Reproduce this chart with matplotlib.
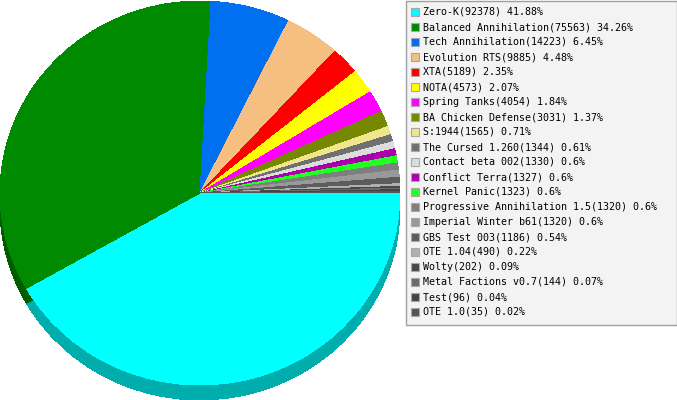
import matplotlib
matplotlib.use("Agg")
import matplotlib.pyplot as plt
from matplotlib.patches import Rectangle

names = ["Zero-K", "Balanced Annihilation", "Tech Annihilation", "Evolution RTS", "XTA", "NOTA",
         "Spring Tanks", "BA Chicken Defense", "S:1944", "The Cursed 1.260", "Contact beta 002",
         "Conflict Terra", "Kernel Panic", "Progressive Annihilation 1.5", "Imperial Winter b61",
         "GBS Test 003", "OTE 1.04", "Wolty", "Metal Factions v0.7", "Test", "OTE 1.0"]
values = [92378, 75563, 14223, 9885, 5189, 4573, 4054, 3031, 1565, 1344, 1330,
          1327, 1323, 1320, 1320, 1186, 490, 202, 144, 96, 35]
percents = ["41.88", "34.26", "6.45", "4.48", "2.35", "2.07", "1.84", "1.37", "0.71", "0.61", "0.6",
            "0.6", "0.6", "0.6", "0.6", "0.54", "0.22", "0.09", "0.07", "0.04", "0.02"]
colors = ["#00ffff", "#008a00", "#0070f0", "#f4bf80", "#ff0000", "#ffff00", "#ff00ff", "#778800",
          "#f0e68c", "#707070", "#dcdcdc", "#aa00aa", "#22ff22", "#7f7f7f", "#999999", "#5c5c5c",
          "#b0b0b0", "#484848", "#6a6a6a", "#444444", "#555555"]

W, H = 677, 400
cx, cy, rx, ry, depth = 200, 193, 200, 192, 15

# The reference renderer never draws a slice thinner than about 0.5 degrees.
min_share = 0.5 / 360
floor = min_share * sum(values)
drawn = [max(v, floor) for v in values]


def darken(hex_color, f=0.68):
    r, g, b = matplotlib.colors.to_rgb(hex_color)
    return (r * f, g * f, b * f)


fig = plt.figure(figsize=(W / 100, H / 100), dpi=100, facecolor="white")
ax = fig.add_axes([0, 0, 1, 1])

common = dict(startangle=0, counterclock=False, radius=1)
w1, _ = ax.pie(drawn, colors=[darken(c) for c in colors], center=(0, -depth / ry), **common)
w2, _ = ax.pie(drawn, colors=colors, center=(0, 0), **common)
for w in w1 + w2:
    w.set_linewidth(0)
    w.set_antialiased(False)
ax.set_aspect("auto")
ax.set_xlim((0 - cx) / rx, (W - cx) / rx)
ax.set_ylim((cy - H) / ry, cy / ry)
ax.axis("off")

lg = fig.add_axes([0, 0, 1, 1])
lg.set_xlim(0, W)
lg.set_ylim(H, 0)
lg.axis("off")
lg.patch.set_alpha(0)
lg.add_patch(Rectangle((405.5, 0.5), 271, 324, facecolor="#f3f3f3", edgecolor="#a0a0a0", linewidth=1.0))
for i, (n, v, p, c) in enumerate(zip(names, values, percents, colors)):
    y = 12 + 15 * i
    lg.add_patch(Rectangle((410.5, y - 4), 8, 8, facecolor=c, edgecolor="#a8a8a8", linewidth=0.8))
    lg.text(423, y, f"{n}({v}) {p}%", family="DejaVu Sans Mono", fontsize=7.2,
            va="center", ha="left", color="#000000")

fig.savefig("out.png", dpi=100, facecolor="white")
